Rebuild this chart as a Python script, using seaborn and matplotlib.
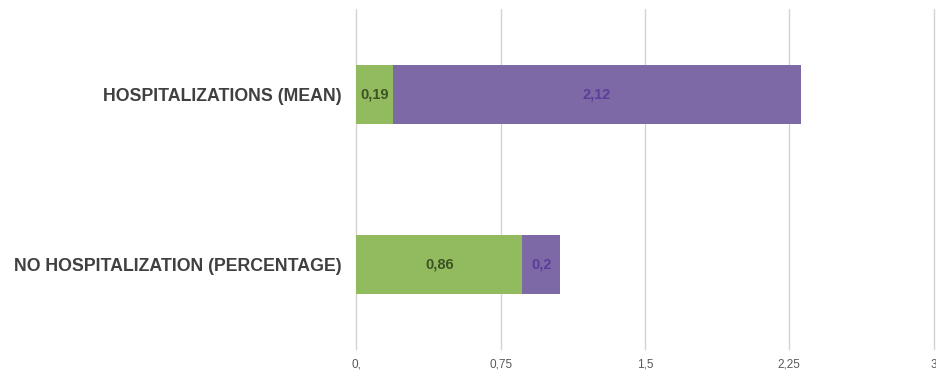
import matplotlib
matplotlib.use("Agg")
import matplotlib.pyplot as plt
import seaborn as sns
import pandas as pd

categories = ["HOSPITALIZATIONS (MEAN)", "NO HOSPITALIZATION (PERCENTAGE)"]
green_vals = [0.19, 0.86]
purple_vals = [2.12, 0.2]
tick_vals = [0, 0.75, 1.5, 2.25, 3]
tick_labels = ["0,", "0,75", "1,5", "2,25", "3"]

sns.set_theme(style="white")
plt.rcParams["font.family"] = ["Liberation Sans", "DejaVu Sans"]

df = pd.DataFrame({
    "cat": categories,
    "green": green_vals,
    "purple": purple_vals,
})
df["total"] = df["green"] + df["purple"]

GREEN = "#92BB60"
PURPLE = "#7D69A5"

L, R, T, B = 356.5, 933.5, 9, 349
fig = plt.figure(figsize=(9.37, 3.71), dpi=100)
ax = fig.add_axes([L / 937, 1 - B / 371, (R - L) / 937, (B - T) / 371])

sns.barplot(data=df, x="total", y="cat", color=PURPLE, width=0.35,
            orient="y", ax=ax, saturation=1, linewidth=0, zorder=3)
sns.barplot(data=df, x="green", y="cat", color=GREEN, width=0.35,
            orient="y", ax=ax, saturation=1, linewidth=0, zorder=4)

def fmt(v):
    s = f"{v:.2f}".rstrip("0").rstrip(".")
    return s.replace(".", ",")

for i, (g, p) in enumerate(zip(green_vals, purple_vals)):
    ax.text(g / 2, i, fmt(g), ha="center", va="center", fontsize=10.5,
            fontweight="bold", color="#3D5222", zorder=5)
    ax.text(g + p / 2, i, fmt(p), ha="center", va="center", fontsize=10.5,
            fontweight="bold", color="#5B3E9A", zorder=5)

ax.set_xlim(0, 3)
ax.set_ylim(1 + (B - 264.5) / 170, -(94.5 - T) / 170)
ax.set_xticks(tick_vals)
ax.set_xticklabels(tick_labels)
ax.xaxis.grid(True, color="#D4D4D4", linewidth=1, zorder=0)
for gl in ax.get_xgridlines():
    gl.set_clip_on(False)
ax.set_axisbelow(True)
for s in ax.spines.values():
    s.set_visible(False)
ax.tick_params(axis="x", bottom=False, length=0,
               labelsize=8.5, labelcolor="#595959", pad=7)
ax.tick_params(axis="y", left=False, length=0, labelsize=12.8,
               labelcolor="#404040", pad=11)
for lab in ax.get_yticklabels():
    lab.set_fontweight("bold")
ax.set_xlabel("")
ax.set_ylabel("")

fig.savefig("out.png", dpi=100)
